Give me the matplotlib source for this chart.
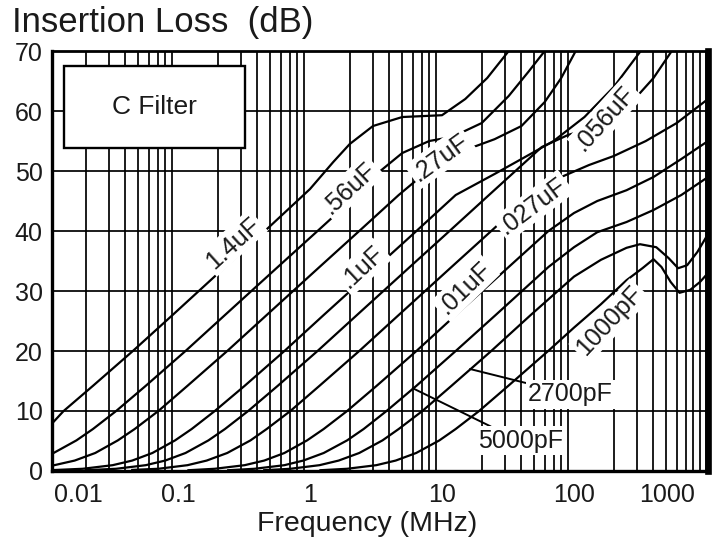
import matplotlib
matplotlib.use("Agg")
import matplotlib.pyplot as plt
from matplotlib.ticker import FixedLocator, NullFormatter
from matplotlib.patches import Rectangle

plt.rcParams['font.family'] = ['Liberation Sans', 'DejaVu Sans']

# ---------------- data ----------------
f_1u4 = [0.0112, 0.0136, 0.0227, 0.0455, 0.091, 0.227, 0.455, 1.0, 1.5, 2.0, 3.0, 5.0, 10.0, 15.0, 22.0, 32.0]
db_1u4 = [8.0, 10.0, 14.2, 20.0, 26.0, 34.0, 40.0, 47.0, 51.5, 54.5, 57.5, 59.0, 59.3, 62.0, 65.5, 70.0]

f_056u = [0.0112, 0.017, 0.0227, 0.034, 0.057, 0.114, 0.227, 0.57, 1.14, 2.27, 3.0, 5.0, 8.0, 12.0, 20.0, 32.0, 45.0, 60.0]
db_056u = [2.9, 5.1, 7.0, 10.0, 14.2, 20.0, 26.0, 34.0, 40.0, 46.0, 49.0, 53.0, 55.0, 55.7, 58.0, 62.5, 66.5, 70.0]

f_027u = [0.0112, 0.0165, 0.0236, 0.035, 0.047, 0.071, 0.118, 0.236, 0.47, 1.18, 2.36, 4.7, 9.0, 15.0, 25.0, 40.0, 60.0, 80.0, 103.0]
db_027u = [0.9, 1.74, 3.0, 5.1, 7.0, 10.0, 14.2, 20.0, 26.0, 34.0, 40.0, 46.0, 51.2, 53.5, 55.3, 57.5, 61.5, 65.5, 70.0]

f_01u = [0.0112, 0.019, 0.032, 0.045, 0.064, 0.095, 0.127, 0.19, 0.32, 0.64, 1.27, 3.2, 6.4, 12.7, 25.0, 40.0, 70.0, 120.0, 200.0, 320.0]
db_01u = [0.15, 0.37, 0.97, 1.74, 3.0, 5.1, 7.0, 10.0, 14.2, 20.0, 26.0, 34.0, 40.0, 46.0, 49.5, 52.0, 55.0, 59.0, 64.0, 70.0]

f_0056u = [0.02, 0.034, 0.057, 0.08, 0.114, 0.17, 0.227, 0.34, 0.57, 1.14, 2.27, 5.7, 11.4, 22.7, 57.0, 90.0, 150.0, 250.0, 400.0, 550.0]
db_0056u = [0.13, 0.37, 0.97, 1.74, 3.0, 5.1, 7.0, 10.0, 14.2, 20.0, 26.0, 34.0, 40.0, 46.0, 54.0, 56.0, 57.5, 60.5, 65.5, 70.0]

f_0027u = [0.045, 0.071, 0.118, 0.165, 0.236, 0.354, 0.47, 0.71, 1.18, 2.36, 4.7, 11.8, 23.6, 47.0, 80.0, 130.0, 200.0, 350.0, 600.0, 1036.0]
db_0027u = [0.18, 0.37, 0.97, 1.74, 3.0, 5.1, 7.0, 10.0, 14.2, 20.0, 26.0, 34.0, 40.0, 46.0, 49.0, 51.0, 52.5, 55.0, 58.0, 62.0]

f_001u = [0.12, 0.19, 0.32, 0.45, 0.64, 0.95, 1.27, 1.91, 3.2, 6.4, 12.7, 32.0, 64.0, 100.0, 150.0, 250.0, 400.0, 650.0, 1036.0]
db_001u = [0.13, 0.37, 0.97, 1.74, 3.0, 5.1, 7.0, 10.0, 14.2, 20.0, 26.0, 34.0, 40.0, 43.0, 45.0, 46.8, 49.0, 52.0, 55.0]

f_5000p = [0.24, 0.38, 0.64, 0.89, 1.27, 1.91, 2.55, 3.8, 6.4, 12.7, 25.5, 64.0, 100.0, 150.0, 250.0, 400.0, 650.0, 1036.0]
db_5000p = [0.13, 0.37, 0.97, 1.74, 3.0, 5.1, 7.0, 10.0, 14.2, 20.0, 26.0, 34.0, 37.3, 39.8, 41.5, 43.5, 46.0, 49.0]

f_2700p = [0.45, 0.71, 1.18, 1.65, 2.36, 3.54, 4.7, 7.1, 11.8, 23.6, 47.0, 100.0, 160.0, 250.0, 316.0, 420.0, 520.0, 615.0, 720.0, 860.0, 1036.0]
db_2700p = [0.13, 0.37, 0.97, 1.74, 3.0, 5.1, 7.0, 10.0, 14.2, 20.0, 26.0, 32.4, 35.2, 37.2, 37.8, 37.3, 35.5, 33.8, 34.3, 36.5, 39.5]

f_1000p = [1.2, 1.91, 3.18, 4.46, 6.37, 9.55, 12.7, 19.1, 31.8, 63.7, 100.0, 160.0, 250.0, 330.0, 400.0, 460.0, 540.0, 630.0, 760.0, 900.0, 1036.0]
db_1000p = [0.13, 0.37, 0.97, 1.74, 3.0, 5.1, 7.0, 10.0, 14.2, 20.0, 23.9, 27.8, 31.8, 33.8, 35.3, 34.0, 31.5, 29.7, 30.2, 31.5, 33.0]

curves_f = [f_1u4, f_056u, f_027u, f_01u, f_0056u, f_0027u, f_001u, f_5000p, f_2700p, f_1000p]
curves_db = [db_1u4, db_056u, db_027u, db_01u, db_0056u, db_0027u, db_001u, db_5000p, db_2700p, db_1000p]

x_tick_labels = ['0.01', '0.1', '1', '10', '100', '1000']
y_ticks = [0, 10, 20, 30, 40, 50, 60, 70]
title_text = 'Insertion Loss  (dB)'
xlabel_text = 'Frequency (MHz)'
box_text = 'C Filter'

# ---------------- figure ----------------
fig = plt.figure(figsize=(7.23, 5.44), dpi=100)
ax = fig.add_axes([0.0726, 0.1342, 0.9067, 0.772])
ax.set_xscale('log')
ax.set_xlim(0.0112, 1036)
ax.set_ylim(0, 70)

# grid positions (log decades with 2..9 subdivisions)
grid_x = []
for dec in [0.01, 0.1, 1, 10, 100]:
    for m in range(1, 11):
        v = dec * m
        if 0.0112 < v < 1036:
            grid_x.append(v)
ax.xaxis.set_minor_locator(FixedLocator(grid_x))
ax.xaxis.set_minor_formatter(NullFormatter())
ax.set_xticks([0.0175, 0.1, 1, 10, 100, 510], x_tick_labels)
ax.set_yticks(y_ticks)
ax.grid(which='minor', axis='x', color='black', lw=1.25)
ax.grid(which='major', axis='y', color='black', lw=1.25)
ax.grid(which='major', axis='x', visible=False)
ax.set_axisbelow(True)
ax.tick_params(axis='both', which='both', length=0)
ax.tick_params(axis='x', pad=9, labelsize=18, labelcolor='#1a1a1a')
ax.tick_params(axis='y', pad=7, labelsize=18, labelcolor='#1a1a1a')

for s, w in [('left', 2.4), ('bottom', 2.4), ('top', 2.0), ('right', 4.8)]:
    ax.spines[s].set_linewidth(w)
    ax.spines[s].set_color('black')

for fx, dy in zip(curves_f, curves_db):
    ax.plot(fx, dy, color='black', lw=1.6, zorder=2, solid_joinstyle='round')

# C Filter box
ax.add_patch(Rectangle((0.017, 0.769), 0.277, 0.195, transform=ax.transAxes,
                       facecolor='white', edgecolor='black', lw=1.7, zorder=3))
ax.text(0.155, 0.8665, box_text, transform=ax.transAxes, ha='center', va='center',
        fontsize=19, color='#1a1a1a', zorder=4)

bb = dict(boxstyle='square,pad=0.1', facecolor='white', edgecolor='none')
labels = [('1.4uF', 0.26, 38.0, 42), ('.56uF', 2.0, 47.2, 43), ('.27uF', 9.7, 52.3, 36),
          ('.1uF', 2.5, 34.0, 43), ('.056uF', 172, 58.8, 48), ('.027uF', 49, 44.2, 37),
          ('.01uF', 15, 30.5, 44), ('1000pF', 186, 25.0, 47)]
for t, x, y, r in labels:
    ax.text(x, y, t, rotation=r, ha='center', va='center', fontsize=18,
            color='#1a1a1a', bbox=bb, zorder=5, rotation_mode='anchor')

ax.annotate('2700pF', xy=(16.3, 17.0), xytext=(45, 12.8), ha='left', va='center',
            fontsize=18, color='#1a1a1a', bbox=bb, zorder=5,
            arrowprops=dict(arrowstyle='-', color='black', lw=1.4, shrinkA=0, shrinkB=0))
ax.annotate('5000pF', xy=(6.0, 13.8), xytext=(18.7, 5.0), ha='left', va='center',
            fontsize=18, color='#1a1a1a', bbox=bb, zorder=5,
            arrowprops=dict(arrowstyle='-', color='black', lw=1.4, shrinkA=0, shrinkB=0))

fig.text(12 / 723, 1 - 32 / 544, title_text, ha='left', va='baseline', fontsize=25, color='#1a1a1a')
fig.text(367.5 / 723, 1 - 531 / 544, xlabel_text, ha='center', va='baseline', fontsize=20.5, color='#1a1a1a')

fig.savefig('out.png', dpi=100)
